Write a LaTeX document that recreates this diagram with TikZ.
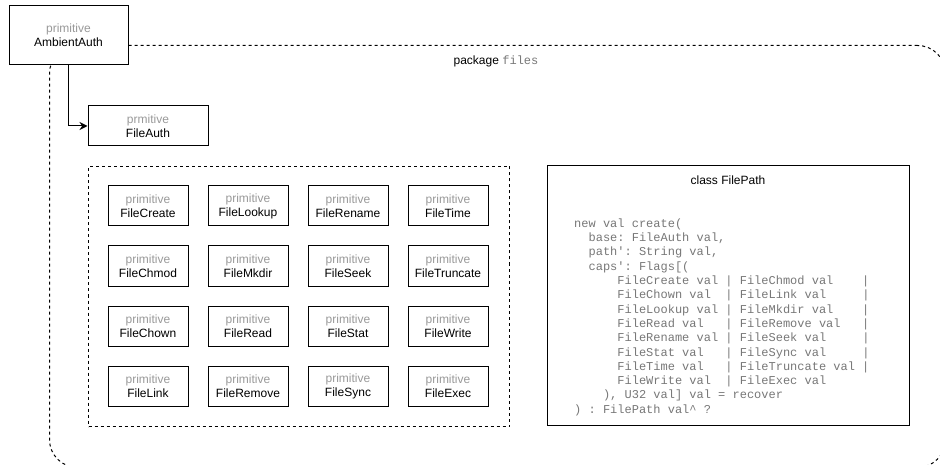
\documentclass[tikz,border=0pt]{standalone}
\usepackage{fontspec}
\setmainfont{Liberation Sans}
\setmonofont{Liberation Mono}
\usetikzlibrary{arrows.meta}
\definecolor{primgray}{HTML}{999999}
\definecolor{codegray}{HTML}{777777}
\begin{document}
\begin{tikzpicture}[x=1pt,y=-1pt,
  every node/.style={font=\fontsize{12}{14}\selectfont},
  prim/.style={draw, line width=1pt, minimum width=80pt, minimum height=40pt, align=center, inner sep=0pt},
  dashbox/.style={draw, line width=1pt, dash pattern=on 3pt off 3pt, inner sep=0pt},
  solidbox/.style={draw, line width=1pt, inner sep=0pt},
  arr/.style={line width=1pt, -{Stealth[length=8pt,width=8pt]}},
  codetext/.style={anchor=north west, inner sep=0pt, align=left, text=codegray, font=\ttfamily\fontsize{12}{14.3}\selectfont}
  ]
\useasboundingbox (0,0) rectangle (940,465);
\clip (0,0) rectangle (940,465);
% package container
\node[dashbox, rounded corners=28pt, minimum width=896pt, minimum height=422pt, anchor=north west] (pkg) at (49,45) {};
\node (pkglabel) at (496,61) {package \textcolor{codegray}{\ttfamily files}};
% ambient auth
\node[prim, fill=white, minimum width=119pt, minimum height=59pt] (amb) at (68.5,35.5) {\textcolor{primgray}{primitive}\\AmbientAuth};
\node[prim, minimum width=120pt] (fa) at (148,126) {\textcolor{primgray}{prmitive}\\FileAuth};
\draw[arr] (amb.south) |- (fa.west);
% group of capabilities
\node[dashbox, minimum width=421pt, minimum height=260pt, anchor=north west] (grp) at (88,166) {};
\foreach \nm [count=\i from 0] in {FileCreate,FileLookup,FileRename,FileTime,FileChmod,FileMkdir,FileSeek,FileTruncate,FileChown,FileRead,FileStat,FileWrite,FileLink,FileRemove,FileSync,FileExec} {
  \pgfmathtruncatemacro\col{mod(\i,4)}
  \pgfmathtruncatemacro\row{div(\i,4)}
  \node[prim] (\nm) at ({148+100*\col},{206+60*\row}) {\textcolor{primgray}{primitive}\\\nm};
}
% class FilePath
\node[solidbox, minimum width=362pt, minimum height=260pt, anchor=north west] (fp) at (547,165) {};
\node (fptitle) at (728,180) {class FilePath};
\node[codetext] (code) at (574,218.5) {new val create(\\
~~base: FileAuth val,\\
~~path': String val,\\
~~caps': Flags[(\\
~~~~~~FileCreate val | FileChmod val~~~~|\\
~~~~~~FileChown val~~| FileLink val~~~~~|\\
~~~~~~FileLookup val | FileMkdir val~~~~|\\
~~~~~~FileRead val~~~| FileRemove val~~~|\\
~~~~~~FileRename val | FileSeek val~~~~~|\\
~~~~~~FileStat val~~~| FileSync val~~~~~|\\
~~~~~~FileTime val~~~| FileTruncate val |\\
~~~~~~FileWrite val~~| FileExec val\\
~~~~), U32 val] val = recover\\
) : FilePath val\textasciicircum{} ?};
\end{tikzpicture}
\end{document}
